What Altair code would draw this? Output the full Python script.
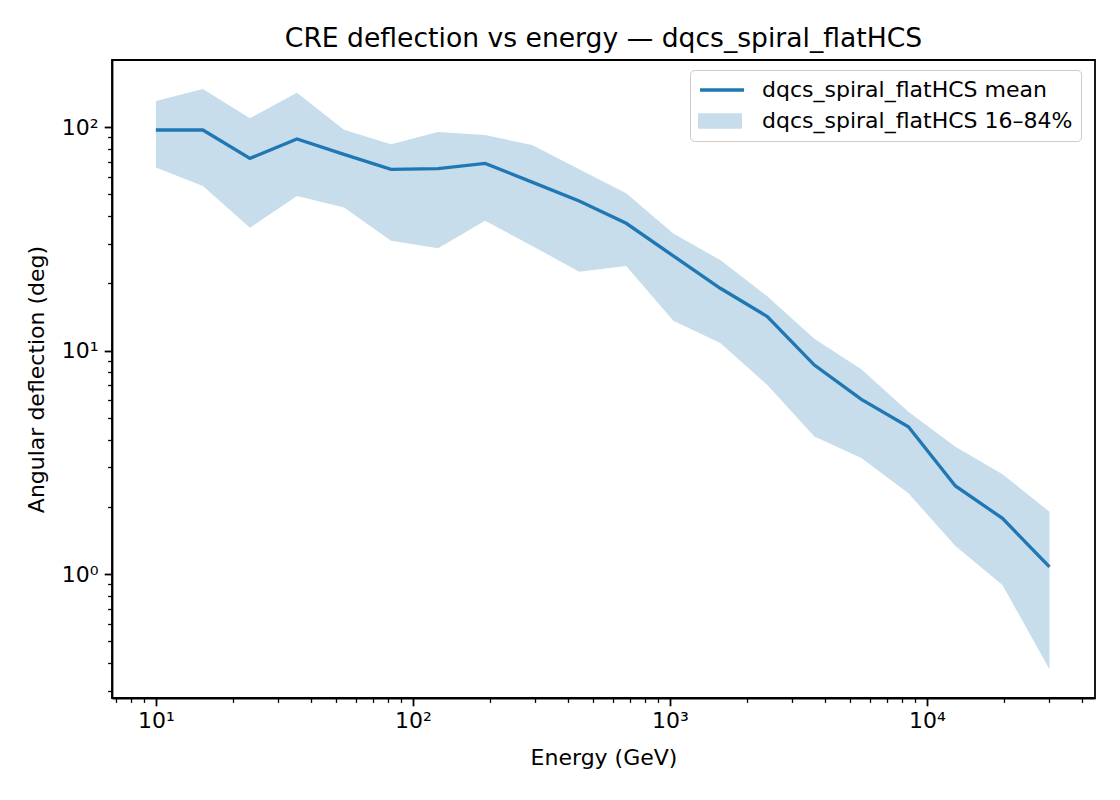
import altair as alt
import pandas as pd

energy = [10.0, 15.24, 23.23, 35.40, 53.96, 82.23, 125.3, 191.0, 291.1, 443.7,
          676.2, 1031.0, 1571.0, 2394.0, 3649.0, 5561.0, 8475.0, 12916.0, 19685.0, 30000.0]
mean = [97.0, 97.0, 72.4, 88.4, 75.5, 64.7, 65.1, 68.8, 56.7, 46.7,
        37.1, 26.5, 19.0, 14.2, 8.61, 6.05, 4.56, 2.48, 1.775, 1.078]
p84 = [130.7, 147.9, 109.4, 142.4, 97.3, 83.7, 95.0, 92.1, 83.1, 64.7,
       50.5, 33.4, 25.4, 17.5, 11.3, 8.24, 5.32, 3.71, 2.80, 1.90]
p16 = [66.0, 54.5, 35.4, 49.1, 43.7, 31.0, 28.7, 38.1, 29.4, 22.5,
       23.9, 13.6, 10.8, 7.01, 4.13, 3.31, 2.30, 1.335, 0.893, 0.375]

mean_label = "dqcs_spiral_flatHCS mean"
band_label = "dqcs_spiral_flatHCS 16–84%"
title_text = "CRE deflection vs energy — dqcs_spiral_flatHCS"

x_ticks = [7, 8, 9, 10, 20, 30, 40, 50, 60, 70, 80, 90, 100, 200, 300, 400, 500, 600, 700, 800, 900,
           1000, 2000, 3000, 4000, 5000, 6000, 7000, 8000, 9000, 10000, 20000, 30000, 40000]
y_ticks = [0.3, 0.4, 0.5, 0.6, 0.7, 0.8, 0.9, 1, 2, 3, 4, 5, 6, 7, 8, 9, 10,
           20, 30, 40, 50, 60, 70, 80, 90, 100]

df = pd.DataFrame({"energy": energy, "mean": mean, "p16": p16, "p84": p84})

FONT = "DejaVu Sans"
BLUE = "#1f77b4"
BAND = "#c7ddec"

IS_MAJOR = "abs(log(datum.value)/LN10 - round(log(datum.value)/LN10)) < 1e-6"
SUP = "['⁰','¹','²','³','⁴','⁵']"
LABEL_EXPR = IS_MAJOR + " ? '10' + " + SUP + "[round(log(datum.value)/LN10)] : ''"

TICK_SIZE = {"condition": {"test": IS_MAJOR, "value": 7.8}, "value": 4.4}
TICK_WIDTH = {"condition": {"test": IS_MAJOR, "value": 1.8}, "value": 1.3}

x_enc = alt.X("energy:Q",
              scale=alt.Scale(type="log", domain=[6.75, 45100], nice=False, zero=False),
              axis=alt.Axis(title="Energy (GeV)", values=x_ticks, labelExpr=LABEL_EXPR,
                            tickSize=TICK_SIZE, tickWidth=TICK_WIDTH,
                            labelOverlap=False, labelFlush=False, labelPadding=5,
                            titlePadding=16))
y_scale = alt.Scale(type="log", domain=[0.279, 199.5], nice=False, zero=False)
y_axis = alt.Axis(title="Angular deflection (deg)", values=y_ticks, labelExpr=LABEL_EXPR,
                  tickSize=TICK_SIZE, tickWidth=TICK_WIDTH,
                  labelOverlap=False, labelFlush=False, labelPadding=6, titlePadding=13)

LEG_X = 578
LEG_Y = 10
common = dict(title=None, orient="none", legendX=LEG_X, legendY=LEG_Y, padding=8,
              labelFont=FONT, labelFontSize=22, labelLimit=600, labelOffset=20,
              symbolSize=1936, rowPadding=7, clipHeight=24)

band_legend = alt.Legend(
    strokeColor="#cccccc", fillColor="rgba(255,255,255,0.8)", cornerRadius=4,
    labelColor="black", symbolType="M-1,-0.35L1,-0.35L1,0.35L-1,0.35Z",
    symbolStrokeWidth=0, symbolOpacity=1, zindex=1, **common)

line_legend = alt.Legend(
    labelColor="transparent", labelExpr="''", symbolType="stroke", symbolStrokeWidth=3.3,
    symbolOpacity=1, zindex=2, **common)

base = alt.Chart(df)

band = base.transform_calculate(series="'" + band_label + "'").mark_area(opacity=1).encode(
    x=x_enc,
    y=alt.Y("p84:Q", scale=y_scale, axis=y_axis),
    y2="p16:Q",
    fill=alt.Fill("series:N",
                  scale=alt.Scale(domain=[mean_label, band_label],
                                  range=["rgba(255,255,255,0)", BAND]),
                  legend=band_legend),
)

line = base.transform_calculate(series="'" + mean_label + "'").mark_line(strokeWidth=3.3).encode(
    x=x_enc,
    y=alt.Y("mean:Q", scale=y_scale, axis=y_axis),
    stroke=alt.Stroke("series:N",
                      scale=alt.Scale(domain=[mean_label], range=[BLUE]),
                      legend=line_legend),
)

chart = alt.layer(band, line).properties(
    width=983, height=638,
    title=alt.TitleParams(title_text, font=FONT, fontSize=26.6, fontWeight="normal",
                          color="black", offset=7),
    autosize=alt.AutoSizeParams(type="none"),
    padding={"left": 104, "top": 52, "right": 17, "bottom": 94},
).configure_axis(
    grid=False, domainColor="black", domainWidth=1.8, tickColor="black",
    labelFont=FONT, labelFontSize=22, labelColor="black",
    titleFont=FONT, titleFontSize=22, titleFontWeight="normal", titleColor="black",
).configure_view(stroke="black", strokeWidth=1.8)

chart.save("out.html", embed_options={"renderer": "svg", "actions": False})
